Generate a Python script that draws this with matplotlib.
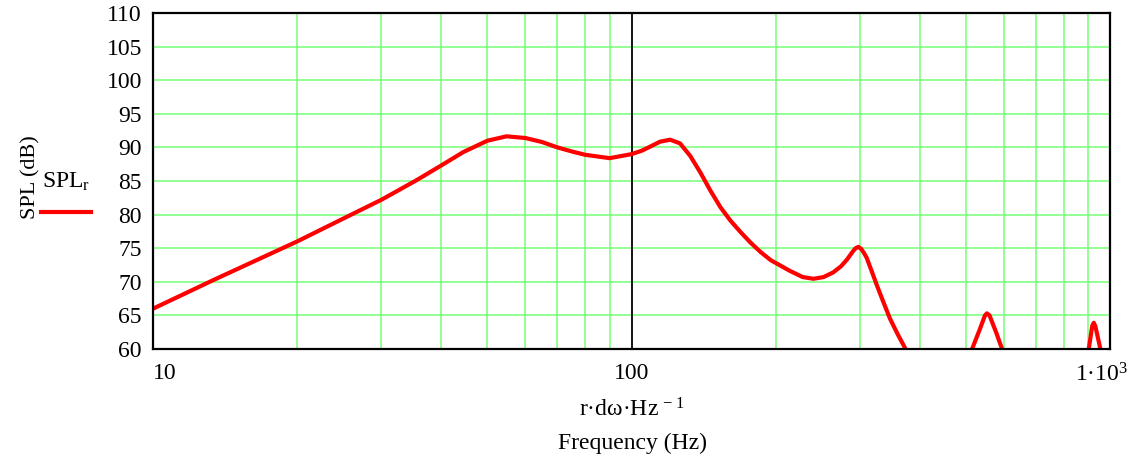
import numpy as np
import matplotlib
matplotlib.use("Agg")
import matplotlib.pyplot as plt
import matplotlib.transforms as mtransforms
from matplotlib.lines import Line2D

plt.rcParams['font.family'] = ['Liberation Serif', 'DejaVu Serif']
plt.rcParams['mathtext.fontset'] = 'custom'
plt.rcParams['mathtext.rm'] = 'Liberation Serif'
plt.rcParams['mathtext.it'] = 'Liberation Serif:italic'

# values (frequency in Hz, SPL in dB)
freq = [10, 13.5, 20, 25.8, 30, 35.5, 40, 44.5, 50, 54.8, 60, 65, 70, 75, 80,
        90, 100, 105, 109.3, 114.7, 120.4, 126.3, 132.6, 139.2, 146.1, 153.4,
        161, 169, 177.5, 186.3, 195.6, 214.6, 228, 240, 252, 264, 274, 282,
        290, 294, 298, 302, 306, 310, 318, 326, 336, 347, 360, 372, 385, 420,
        470, 500, 515, 535, 548, 553, 560, 578, 595, 610, 700, 880, 903, 918,
        925, 932, 955, 970, 1000]
spl = [66.0, 70.4, 76.0, 79.9, 82.2, 85.1, 87.3, 89.3, 91.0, 91.65, 91.4, 90.8,
       90.0, 89.4, 88.9, 88.4, 89.0, 89.5, 90.1, 90.85, 91.15, 90.6, 88.75,
       86.3, 83.6, 81.1, 79.1, 77.4, 75.8, 74.4, 73.2, 71.6, 70.7, 70.45,
       70.7, 71.4, 72.3, 73.3, 74.5, 75.0, 75.2, 74.9, 74.3, 73.6, 71.5, 69.4,
       67.0, 64.5, 62.2, 60.3, 58.0, 52.0, 50.0, 57.0, 60.0, 63.0, 65.0, 65.3,
       65.0, 62.5, 60.0, 57.0, 50.0, 55.0, 60.0, 63.4, 63.9, 63.4, 60.0, 56.0,
       50.0]

x_ticks = [10, 100, 1000]
x_ticklabels = ['10', '100', '1·10$^{3}$']
y_ticks = list(range(60, 111, 5))
x_minor = [20, 30, 40, 50, 60, 70, 80, 90, 200, 300, 400, 500, 600, 700, 800, 900]

fig = plt.figure(figsize=(11.43, 4.65), dpi=100)
ax = fig.add_axes([0.1339, 0.2495, 0.8372, 0.7225])

grid_c = '#80ff80'
for yv in y_ticks[1:-1]:
    ax.axhline(yv, color=grid_c, lw=1.2, zorder=1)
for xv in x_minor:
    ax.axvline(xv, color=grid_c, lw=1.2, zorder=1)
ax.axvline(100, color='black', lw=1.3, zorder=2)

ax.plot(freq, spl, color='#ff0000', lw=3.0, zorder=3,
        solid_capstyle='round', solid_joinstyle='round')

ax.set_xscale('log')
ax.set_xlim(10, 1000)
ax.set_ylim(60, 110)
ax.set_yticks(y_ticks)
ax.set_xticks(x_ticks, x_ticklabels)
ax.xaxis.set_minor_locator(matplotlib.ticker.NullLocator())
ax.tick_params(axis='both', length=0, labelsize=17)
ax.tick_params(axis='x', pad=10)
ax.tick_params(axis='y', pad=8)
lbls = ax.get_xticklabels()
lbls[0].set_ha('left')
lbls[2].set_ha('center')
lbls[2].set_transform(lbls[2].get_transform() +
                      mtransforms.ScaledTranslation(-8 / 100, 0, fig.dpi_scale_trans))

for s in ax.spines.values():
    s.set_linewidth(1.6)
    s.set_color('black')
    s.set_zorder(4)

fig.text(0.553, 0.118, 'r·dω·Hz$^{\\,-\\,1}$', ha='center', va='center', fontsize=17)
fig.text(0.553, 0.047, 'Frequency (Hz)', ha='center', va='center', fontsize=17)
fig.text(0.027, 0.62, 'SPL (dB)', rotation=90, ha='center', va='center', fontsize=16)
fig.text(0.058, 0.608, r'SPL$_{\mathrm{r}}$', ha='center', va='center', fontsize=17)
fig.add_artist(Line2D([0.036, 0.080], [0.544, 0.544], color='#ff0000', lw=3.0,
                      transform=fig.transFigure))

fig.savefig('out.png', dpi=100)
